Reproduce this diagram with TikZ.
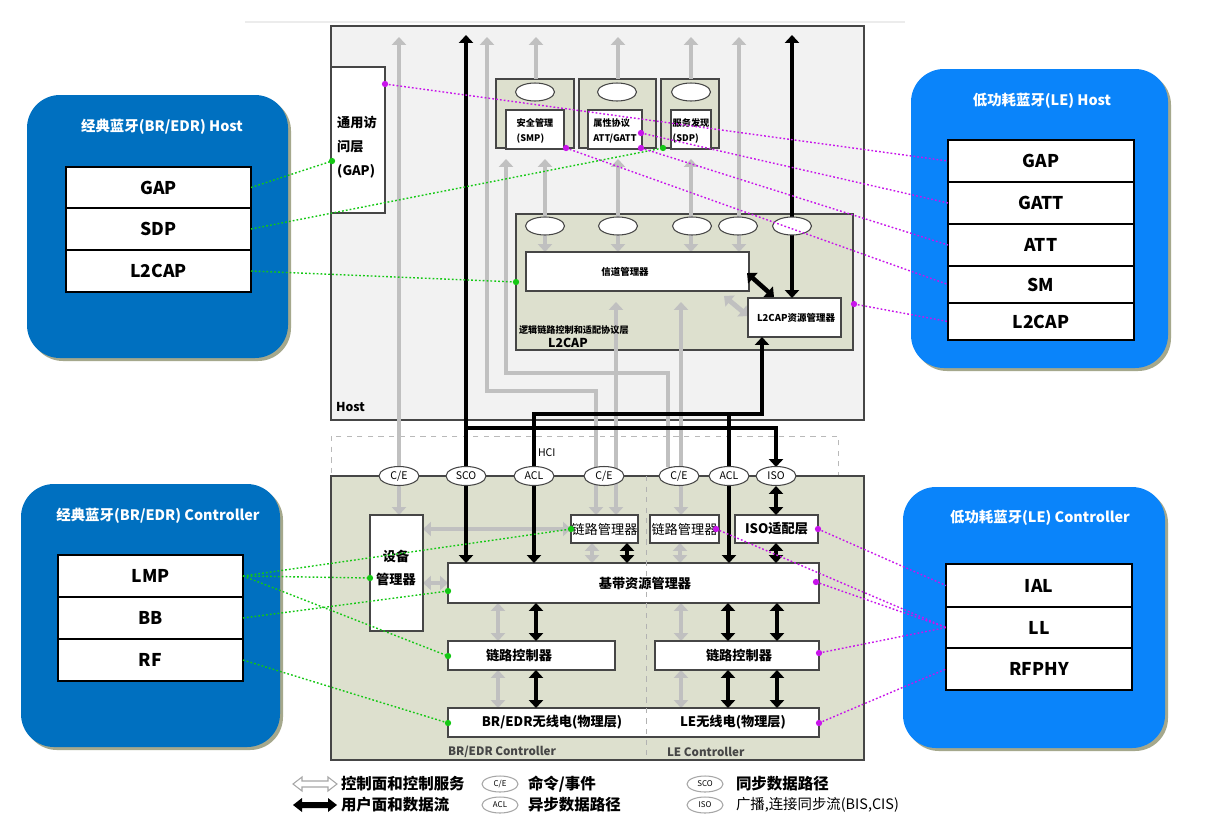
\documentclass[tikz,border=0pt]{standalone}
\usepackage{fontspec}
\setmainfont{Noto Sans CJK SC}
\usetikzlibrary{arrows.meta,shapes.geometric,fit}
\definecolor{hostgray}{RGB}{242,242,242}
\definecolor{olivec}{RGB}{221,224,206}
\definecolor{dgray}{RGB}{70,70,70}
\definecolor{lgray}{RGB}{192,192,192}
\definecolor{brblue}{RGB}{0,112,192}
\definecolor{leblue}{RGB}{10,132,250}
\definecolor{shadowc}{RGB}{165,168,140}
\definecolor{gcol}{RGB}{20,200,20}
\definecolor{mcol}{RGB}{200,20,235}
\newcommand\fsz[2]{\fontsize{#1}{#2}\selectfont}
\begin{document}
\begin{tikzpicture}[x=0.02cm,y=-0.02cm,
 >={Triangle[length=4.5pt,width=8pt]},
 every node/.append style={inner sep=0pt, outer sep=0pt},
 cont/.style={draw=dgray, line width=0.7pt},
 wbox/.style={draw=dgray, fill=white, line width=0.7pt},
 row/.style={draw=black, fill=white, line width=0.8pt},
 rowf/.style={font=\fsz{10pt}{12pt}\bfseries},
 ell/.style={ellipse, draw=dgray, fill=white, line width=0.6pt, minimum width=0.8cm, minimum height=0.38cm, font=\fsz{6pt}{7pt}},
 pell/.style={ellipse, draw=dgray, fill=white, line width=0.6pt, minimum width=0.78cm, minimum height=0.36cm},
 lell/.style={ellipse, draw=gray!70, fill=white, line width=0.6pt, minimum width=0.72cm, minimum height=0.32cm, font=\fsz{4.5pt}{5pt}},
 gline/.style={draw=lgray, line width=2.8pt},
 bline/.style={draw=black, line width=2.6pt},
 gcon/.style={draw=gcol, line width=0.8pt, dash pattern=on 1pt off 1.2pt},
 mcon/.style={draw=mcol, line width=0.8pt, dash pattern=on 1pt off 1.2pt},
 panel/.style={rounded corners=0.66cm},
 ptitle/.style={text=white, font=\fsz{8.2pt}{10pt}\bfseries},
 tb/.style={font=\fsz{7.5pt}{9pt}\bfseries},
 tr/.style={font=\fsz{7.5pt}{9pt}},
 ts/.style={font=\fsz{5.2pt}{9pt}\bfseries, align=left},
 lgt/.style={anchor=west, font=\fsz{8.8pt}{10pt}\bfseries},
]
\fill[white] (0,0) rectangle (1226,832);
\useasboundingbox (0,0) rectangle (1226,832);
\draw[gray!15, line width=0.6pt] (245,22) -- (905,22);

% ---------- containers ----------
\node[cont, fill=hostgray, fit={(331,26)(864,420)}] (host) {};
\node[draw=gray!55, dashed, line width=0.5pt, fit={(331,436)(838,476)}] (hci) {};
\node[cont, fill=olivec, fit={(331,476)(864,760)}] (ctrl) {};
\node[cont, fill=olivec, fit={(516,214)(853,350)}] (l2c) {};
\node[cont, fill=olivec, fit={(496,79)(574,148)}] (psmp) {};
\node[cont, fill=olivec, fit={(579,79)(656,148)}] (patt) {};
\node[cont, fill=olivec, fit={(661,79)(719,148)}] (psdp) {};

% ---------- gray lines ----------
\draw[gline,<->] (399,37) -- (399,515);
\draw[gline,<->] (487,37) |- (596,391) -- (596,515);
\draw[gline,<-] (506,159) |- (668,373) -- (668,467);
\draw[gline,<->] (616,302) -- (616,515);
\draw[gline,<->] (681,302) -- (681,515);
\draw[gline,->] (psmp.north -| 536,0) -- (536,37);
\draw[gline,->] (patt.north -| 618,0) -- (618,37);
\draw[gline,->] (psdp.north -| 691,0) -- (691,37);
\draw[gline,<->] (545,159) -- (545,252);
\draw[gline,<->] (618,159) -- (618,252);
\draw[gline,<->] (691,159) -- (691,252);
\draw[gline,<->] (739,37) -- (739,252);
\draw[gline,<->] (724,296) -- (748,316);
\draw[gline,<->] (423,529) -- (571,529);
\draw[gline,<->] (423,583) -- (448,583);
\draw[gline,<->] (592,543) -- (592,563);
\draw[gline,<->] (680,543) -- (680,563);
\draw[gline,<->] (498,603) -- (498,641);
\draw[gline,<->] (681,603) -- (681,641);
\draw[gline,<->] (498,670) -- (498,708);
\draw[gline,<->] (681,670) -- (681,708);

% ---------- boxes ----------
\node[wbox, fit={(331,67)(385,213)}] (gapb) {};
\node[font=\fsz{7.5pt}{13.6pt}\bfseries, align=left] (gapt) at (357,147) {通用访\\问层\\(GAP)};
\node[wbox, fit={(506,110)(564,149)}] (ismp) {};
\node[ts] (ismpt) at (535,131) {安全管理\\(SMP)};
\node[wbox, fit={(588,110)(642,149)}] (iatt) {};
\node[ts] (iattt) at (615,131) {属性协议\\ATT/GATT};
\node[wbox, fit={(671,110)(711,149)}] (isdp) {};
\node[ts] (isdpt) at (691,131) {服务发现\\(SDP)};
\node[pell] (es1) at (535,92) {};
\node[pell] (es2) at (617,92) {};
\node[pell] (es3) at (691,92) {};

\node[wbox, fit={(526,252)(749,291)}] (chm) {};
\node[font=\fsz{5.4pt}{7pt}\bfseries] (chmt) at (625,272) {信道管理器};
\node[wbox, fit={(748,298)(841,337)}] (lrm) {};
\node[font=\fsz{5.4pt}{7pt}\bfseries] (lrmt) at (796,318) {L2CAP资源管理器};
\node[font=\fsz{5.2pt}{7pt}\bfseries, anchor=west] (l2t1) at (519,330) {逻辑链路控制和适配协议层};
\node[font=\fsz{7pt}{8pt}\bfseries] (l2t2) at (568,343) {L2CAP};
\node[font=\fsz{7pt}{8pt}\bfseries, anchor=west] (hostt) at (336,407) {Host};
\node[font=\fsz{6pt}{7pt}, anchor=west] (hcit) at (538,453) {HCI};

\node[wbox, fit={(370,515)(423,631)}] (dm) {};
\node[font=\fsz{7.5pt}{13pt}\bfseries, align=center] (dmt) at (396,568) {设备\\管理器};
\node[wbox, fit={(571,515)(638,543)}, label={[tr]center:链路管理器}] (lmbr) {};
\node[wbox, fit={(650,515)(719,543)}, label={[tr]center:链路管理器}] (lmle) {};
\node[wbox, fit={(735,515)(818,543)}, label={[tb]center:ISO适配层}] (isoa) {};
\node[wbox, fit={(448,563)(819,603)}] (bb) {};
\node[tb] (bbt) at (645,583) {基带资源管理器};
\node[wbox, fit={(448,641)(615,670)}] (lcbr) {};
\node[tb] (lcbrt) at (519,655) {链路控制器};
\node[wbox, fit={(655,641)(819,670)}] (lcle) {};
\node[tb] (lclet) at (739,655) {链路控制器};
\node[wbox, fit={(448,708)(819,737)}] (radio) {};
\node[tb] (radt1) at (552,722) {BR/EDR无线电(物理层)};
\node[tb] (radt2) at (733,722) {LE无线电(物理层)};
\node[font=\fsz{6.6pt}{8pt}\bfseries, text=dgray, anchor=west] (brc) at (448,752) {BR/EDR Controller};
\node[font=\fsz{6.6pt}{8pt}\bfseries, text=dgray, anchor=west] (lec) at (667,752) {LE Controller};

% ---------- black lines ----------
\draw[bline,<->] (466,35) -- (bb.north -| 466,0);
\draw[bline,->] (466,428) -| (776,467);
\draw[bline,<->] (lrm.south -| 762,0) |- (534,414) -- (bb.north -| 534,0);
\draw[bline,->] (729,414) -- (bb.north -| 729,0);
\draw[bline,<->] (792,35) -- (lrm.north -| 792,0);
\draw[bline,<->] (747,273) -- (774,297);
\draw[bline,<->] (776,486) -- (isoa.north -| 776,0);
\draw[bline,<->] (lmbr.south -| 627,0) -- (bb.north -| 627,0);
\draw[bline,<->] (isoa.south -| 776,0) -- (bb.north -| 776,0);
\draw[bline,<->] (bb.south -| 536,0) -- (lcbr.north -| 536,0);
\draw[bline,<->] (bb.south -| 728,0) -- (lcle.north -| 728,0);
\draw[bline,<->] (bb.south -| 777,0) -- (lcle.north -| 777,0);
\draw[bline,<->] (lcbr.south -| 536,0) -- (radio.north -| 536,0);
\draw[bline,<->] (lcle.south -| 728,0) -- (radio.north -| 728,0);
\draw[bline,<->] (lcle.south -| 777,0) -- (radio.north -| 777,0);

% ---------- ellipses ----------
\node[pell] (le1) at (545,226) {};
\node[pell] (le2) at (618,226) {};
\node[pell] (le3) at (692,226) {};
\node[pell] (le4) at (738,226) {};
\node[pell] (le5) at (792,226) {};
\node[ell] (ce1) at (399,476) {C/E};
\node[ell] (sco) at (466,476) {SCO};
\node[ell] (acl1) at (534,476) {ACL};
\node[ell] (ce2) at (604,476) {C/E};
\node[ell] (ce3) at (679,476) {C/E};
\node[ell] (acl2) at (729,476) {ACL};
\node[ell] (iso) at (776,476) {ISO};
\draw[gray!60, dashed, line width=0.5pt] (646,476) -- (646,760);

% ---------- side panels ----------
\fill[shadowc, panel] (30,98) rectangle (291,361);
\node[fill=brblue, panel, fit={(27,95)(288,358)}] (pbh) {};
\node[ptitle] (tbh) at (162,127) {经典蓝牙(BR/EDR) Host};
\node[row, fit={(66,167)(251,208)}, label={[rowf]center:GAP}] (bhgap) {};
\node[row, fit={(66,208)(251,250)}, label={[rowf]center:SDP}] (bhsdp) {};
\node[row, fit={(66,250)(251,292)}, label={[rowf]center:L2CAP}] (bhl2) {};

\fill[shadowc, panel] (914,72) rectangle (1171,371);
\node[fill=leblue, panel, fit={(911,69)(1168,368)}] (plh) {};
\node[ptitle] (tlh) at (1042,101) {低功耗蓝牙(LE) Host};
\node[row, fit={(948,140)(1134,182)}, label={[rowf]center:GAP}] (lhgap) {};
\node[row, fit={(948,182)(1134,224)}, label={[rowf]center:GATT}] (lhgatt) {};
\node[row, fit={(948,224)(1134,266)}, label={[rowf]center:ATT}] (lhatt) {};
\node[row, fit={(948,266)(1134,303)}, label={[rowf]center:SM}] (lhsm) {};
\node[row, fit={(948,303)(1134,340)}, label={[rowf]center:L2CAP}] (lhl2) {};

\fill[shadowc, panel] (24,487) rectangle (283,750);
\node[fill=brblue, panel, fit={(21,484)(280,747)}] (pbc) {};
\node[ptitle] (tbc) at (158,516) {经典蓝牙(BR/EDR) Controller};
\node[row, fit={(58,555)(243,597)}, label={[rowf]center:LMP}] (bclmp) {};
\node[row, fit={(58,597)(243,639)}, label={[rowf]center:BB}] (bcbb) {};
\node[row, fit={(58,639)(243,681)}, label={[rowf]center:RF}] (bcrf) {};

\fill[shadowc, panel] (906,490) rectangle (1168,751);
\node[fill=leblue, panel, fit={(903,487)(1165,748)}] (plc) {};
\node[ptitle] (tlc) at (1040,518) {低功耗蓝牙(LE) Controller};
\node[row, fit={(946,564)(1132,607)}, label={[rowf]center:IAL}] (lcial) {};
\node[row, fit={(946,607)(1132,648)}, label={[rowf]center:LL}] (lcll) {};
\node[row, fit={(946,648)(1132,690)}, label={[rowf]center:RFPHY}] (lcrf) {};

% ---------- dotted mapping connectors ----------
\coordinate (dgap) at (332,161);
\coordinate (dsdp) at (663,148);
\coordinate (dl2) at (516,282);
\coordinate (dlm) at (571,529);
\coordinate (ddm) at (370,578);
\coordinate (dlc) at (448,656);
\coordinate (dbb) at (448,591);
\coordinate (drf) at (448,723);
\coordinate (mgap) at (385,84);
\coordinate (mgatt) at (641,133);
\coordinate (matt) at (641,148);
\coordinate (msm) at (566,148);
\coordinate (ml2) at (854,304);
\coordinate (miso) at (818,529);
\coordinate (mlm) at (716,529);
\coordinate (mbb) at (816,582);
\coordinate (mlc) at (819,653);
\coordinate (mrf) at (819,723);

\draw[gcon] (bhgap.east) -- (dgap);
\draw[gcon] (bhsdp.east) -- (dsdp);
\draw[gcon] (bhl2.east) -- (dl2);
\draw[gcon] (bclmp.east) -- (dlm);
\draw[gcon] (bclmp.east) -- (ddm);
\draw[gcon] (bclmp.east) -- (dlc);
\draw[gcon] (bcbb.east) -- (dbb);
\draw[gcon] (bcrf.east) -- (drf);
\foreach \p in {dgap,dsdp,dl2,dlm,ddm,dlc,dbb,drf} \fill[gcol] (\p) circle (1.8pt);

\draw[mcon] (mgap) -- (lhgap.west);
\draw[mcon] (mgatt) -- (lhgatt.west);
\draw[mcon] (matt) -- (lhatt.west);
\draw[mcon] (msm) -- (lhsm.west);
\draw[mcon] (ml2) -- (lhl2.west);
\draw[mcon] (miso) -- (lcial.west);
\draw[mcon] (mlm) -- (lcll.west);
\draw[mcon] (mbb) -- (lcll.west);
\draw[mcon] (mlc) -- (lcll.west);
\draw[mcon] (mrf) -- (lcrf.west);
\foreach \p in {mgap,mgatt,matt,msm,ml2,miso,mlm,mbb,mlc,mrf} \fill[mcol] (\p) circle (1.8pt);

% ---------- legend ----------
\draw[gray!70, fill=white, line width=0.6pt] (293,784) -- (302,777) -- (302,781) -- (328,781) -- (328,777) -- (337,784) -- (328,791) -- (328,787) -- (302,787) -- (302,791) -- cycle;
\fill[black] (293,805) -- (302,798) -- (302,802) -- (328,802) -- (328,798) -- (337,805) -- (328,812) -- (328,808) -- (302,808) -- (302,812) -- cycle;
\node[lgt] (lg1) at (341,784) {控制面和控制服务};
\node[lgt] (lg2) at (341,805) {用户面和数据流};
\node[lell] (lce) at (500,784) {C/E};
\node[lell] (lacl) at (500,805) {ACL};
\node[lgt] (lg3) at (528,784) {命令/事件};
\node[lgt] (lg4) at (528,805) {异步数据路径};
\node[lell] (lsco) at (705,784) {SCO};
\node[lell] (liso) at (705,805) {ISO};
\node[lgt] (lg5) at (736,784) {同步数据路径};
\node[anchor=west, font=\fsz{8.2pt}{10pt}] (lg6) at (736,805) {广播,连接同步流(BIS,CIS)};
\end{tikzpicture}
\end{document}
